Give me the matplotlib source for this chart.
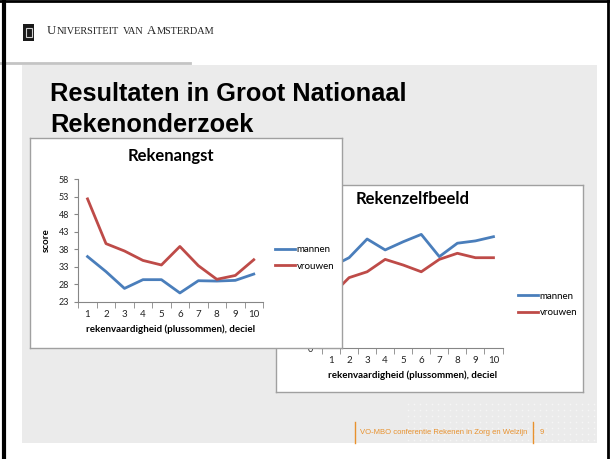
import matplotlib
matplotlib.use('Agg')
import matplotlib.pyplot as plt
import numpy as np
from matplotlib.patches import Rectangle

# data
deciles = [1, 2, 3, 4, 5, 6, 7, 8, 9, 10]
angst_mannen = [35.9, 31.6, 26.8, 29.3, 29.3, 25.5, 29.0, 28.9, 29.1, 30.9]
angst_vrouwen = [52.4, 39.6, 37.5, 34.8, 33.5, 38.8, 33.3, 29.4, 30.5, 35.0]
zelf_mannen = [38.6, 43.0, 51.9, 46.7, 50.6, 54.1, 43.5, 49.9, 51.0, 53.0]
zelf_vrouwen = [24.9, 33.5, 36.3, 42.2, 39.5, 36.3, 42.2, 45.1, 43.0, 43.0]
angst_yticks = [23, 28, 33, 38, 43, 48, 53, 58]
zelf_yticks = [0, 10, 20, 30, 40, 50, 60]
series_names = ['mannen', 'vrouwen']

BLUE = '#4a7ebb'
RED = '#be4b48'
AXC = '#868686'
W, H = 610, 459

fig = plt.figure(figsize=(W / 100, H / 100), dpi=100)
renderer = fig.canvas.get_renderer()


def px_axes(x0, y0, x1, y1, z):
    # axes placed in pixel coords (y downward)
    ax = fig.add_axes([x0 / W, 1 - y1 / H, (x1 - x0) / W, (y1 - y0) / H], zorder=z)
    return ax


# slide background
bg = px_axes(0, 0, W, H, 0)
bg.set_xlim(0, W)
bg.set_ylim(H, 0)
bg.axis('off')
bg.add_patch(Rectangle((22, 65), 575, 378, color='#ebebeb', lw=0))
bg.plot([0, 190], [63, 63], color='#c4c4c4', lw=2)
bg.plot([3.5, 3.5], [0, H], color='black', lw=3)
bg.plot([0, W], [1, 1], color='black', lw=2)
bg.plot([608, 608], [0, H], color='black', lw=2)
# logo
bg.add_patch(Rectangle((23, 24), 11, 17, color='#1a1a1a', lw=0))
bg.add_patch(Rectangle((25.5, 28), 6, 9, fill=False, ec='#d0d0d0', lw=0.8))

# small caps header, word by word
x = 47
for first, rest in [('U', 'NIVERSITEIT'), ('', 'VAN'), ('A', 'MSTERDAM')]:
    if first:
        t = bg.text(x, 34, first, fontsize=9.2, family='Liberation Serif',
                    color='#222222', va='baseline')
        x += t.get_window_extent(renderer).width
    t = bg.text(x, 34, rest, fontsize=7.4, family='Liberation Serif',
                color='#222222', va='baseline')
    x += t.get_window_extent(renderer).width + 4

# title
bg.text(50, 101, 'Resultaten in Groot Nationaal', fontsize=18.3, fontweight='bold',
        family='Liberation Sans', color='black', va='baseline')
bg.text(50, 132, 'Rekenonderzoek', fontsize=18.3, fontweight='bold',
        family='Liberation Sans', color='black', va='baseline')
# footer dots
gx, gy = np.meshgrid(np.arange(408, 597, 6), np.arange(404, 443, 6))
bg.scatter(gx.ravel(), gy.ravel(), s=1.2, color='#f6f6f6', lw=0)
ORANGE = '#e8912d'
bg.plot([355, 355], [422, 443], color=ORANGE, lw=1)
bg.plot([533, 533], [422, 443], color=ORANGE, lw=1)
bg.text(360, 432, 'VO-MBO conferentie Rekenen in Zorg en Welzijn', fontsize=5.5,
        family='Liberation Sans', color=ORANGE, va='center')
bg.text(540, 432, '9', fontsize=5.5, family='Liberation Sans', color=ORANGE, va='center')


def frame(x0, y0, x1, y1, z):
    fr = px_axes(x0, y0, x1, y1, z)
    fr.set_xticks([])
    fr.set_yticks([])
    fr.set_facecolor('white')
    for s in fr.spines.values():
        s.set_color('#a0a0a0')
        s.set_linewidth(1)
    return fr


def chart(ax, mannen, vrouwen, yticks, title, legend_xy):
    ax.set_facecolor('none')
    l1, = ax.plot(deciles, mannen, color=BLUE, lw=2)
    l2, = ax.plot(deciles, vrouwen, color=RED, lw=2)
    ax.set_xlim(0.5, 10.5)
    ax.set_ylim(yticks[0], yticks[-1])
    ax.set_yticks(yticks)
    ax.set_xticks(deciles)
    ax.set_xticks(np.arange(0.5, 11, 1), minor=True)
    ax.tick_params(axis='x', which='major', length=0, pad=6, labelsize=7, labelcolor='#222222')
    ax.tick_params(axis='x', which='minor', length=4, color=AXC, direction='out')
    ax.tick_params(axis='y', length=3, color=AXC, labelsize=6.5, labelcolor='#222222')
    for lab in ax.get_xticklabels() + ax.get_yticklabels():
        lab.set_family('Lato')
    for s in ['top', 'right']:
        ax.spines[s].set_visible(False)
    for s in ['left', 'bottom']:
        ax.spines[s].set_color(AXC)
        ax.spines[s].set_linewidth(0.8)
    ax.set_title(title, fontsize=12, fontweight='bold', family='Lato', pad=13)
    ax.set_xlabel('rekenvaardigheid (plussommen), deciel', fontsize=7, fontweight='bold',
                  family='Lato', labelpad=4)
    ax.legend([l1, l2], series_names, loc='center left', frameon=False,
              bbox_to_anchor=(legend_xy[0] / W, 1 - legend_xy[1] / H),
              bbox_transform=fig.transFigure, borderaxespad=0,
              handlelength=2.06, handletextpad=0.17,
              labelspacing=0.78, prop={'family': 'Lato', 'size': 7})


# second chart (behind)
frame(276, 185, 583, 392, 1)
ax2 = px_axes(322, 222, 502.5, 348, 2)
chart(ax2, zelf_mannen, zelf_vrouwen, zelf_yticks, 'Rekenzelfbeeld', (514, 304.5))
# only the bottom label peeks out from behind the front chart
ax2.set_yticklabels(['0'] + [''] * (len(zelf_yticks) - 1), family='Lato')

# first chart (front)
frame(30, 138, 342, 348, 3)
ax1 = px_axes(78.3, 179.3, 263, 301.7, 4)
chart(ax1, angst_mannen, angst_vrouwen, angst_yticks, 'Rekenangst', (271, 258))
ax1.set_ylabel('score', fontsize=7, fontweight='bold', family='Lato', labelpad=6)

fig.savefig('out.png', dpi=100)
